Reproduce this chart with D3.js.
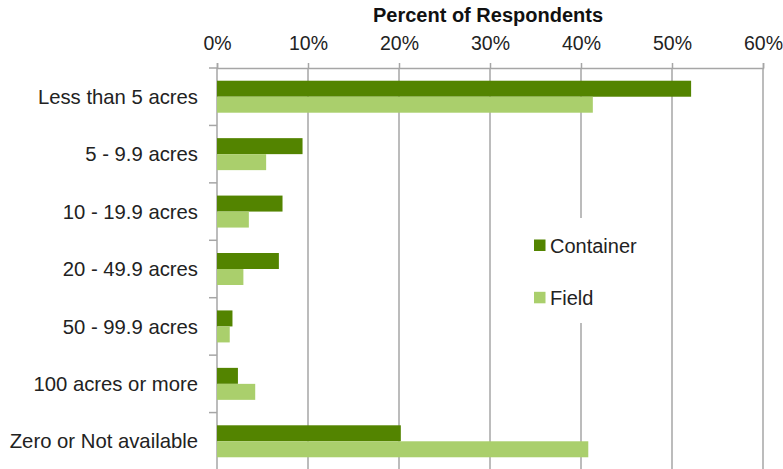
<!DOCTYPE html>
<html><head><meta charset="utf-8">
<script src="https://cdn.jsdelivr.net/npm/d3@7"></script>
<style>body{margin:0;background:#fff;}svg{display:block;font-family:"Liberation Sans",Arial,sans-serif;}</style>
</head><body>
<svg id="c" width="783" height="469"></svg>
<script>
const categories = ["Less than 5 acres","5 - 9.9 acres","10 - 19.9 acres","20 - 49.9 acres","50 - 99.9 acres","100 acres or more","Zero or Not available"];
const seriesNames = ["Container","Field"];
const container = [0.521,0.094,0.072,0.068,0.017,0.023,0.202];
const field = [0.413,0.054,0.035,0.029,0.014,0.042,0.408];
const xTicks = [0,0.1,0.2,0.3,0.4,0.5,0.6];
const colors = ["#538400","#aacf6c"];

const svg = d3.select("#c");
const L = 217, R = 763, T = 68, B = 470;
const x = d3.scaleLinear().domain([0,0.6]).range([L,R]);
const y = d3.scaleBand().domain(categories).range([T,B]).paddingInner(0.443).paddingOuter(0.2215);
const ySub = d3.scaleBand().domain(seriesNames).range([0,y.bandwidth()]);
const grid = "#a6a6a6";

// gridlines
svg.append("g").selectAll("line").data(xTicks.slice(1)).join("line")
  .attr("x1",d=>x(d)).attr("x2",d=>x(d)).attr("y1",T).attr("y2",B)
  .attr("stroke",grid).attr("stroke-width",1.5);

// top axis
const xa = svg.append("g").attr("transform",`translate(0,${T})`)
  .call(d3.axisTop(x).tickValues(xTicks).tickFormat(d3.format(".0%")).tickSize(5).tickPadding(13));
xa.select(".domain").attr("stroke",grid).attr("stroke-width",1.5);
xa.selectAll(".tick line").attr("stroke",grid).attr("stroke-width",1.5);
xa.selectAll("text").attr("font-size",19.5).attr("fill","#222").attr("font-family","Liberation Sans, Arial, sans-serif");

// y axis
const step = y.step();
const bounds = d3.range(categories.length).map(i=>T+i*step);
svg.append("line").attr("x1",L).attr("x2",L).attr("y1",T).attr("y2",B).attr("stroke",grid).attr("stroke-width",1.5);
svg.append("g").selectAll("line").data(bounds).join("line")
  .attr("x1",L-8).attr("x2",L).attr("y1",d=>d).attr("y2",d=>d).attr("stroke",grid).attr("stroke-width",1.5);
svg.append("g").selectAll("text").data(categories).join("text")
  .attr("x",198).attr("y",d=>y(d)+y.bandwidth()/2).attr("dy","0.35em")
  .attr("text-anchor","end").attr("font-size",20.3).attr("fill","#222").text(d=>d);

// bars
const data = [container, field];
seriesNames.forEach((s,si)=>{
  svg.append("g").selectAll("rect").data(categories).join("rect")
    .attr("x",x(0)).attr("y",(d,i)=>y(d)+ySub(s))
    .attr("width",(d,i)=>x(data[si][i])-x(0)).attr("height",ySub.bandwidth())
    .attr("fill",colors[si]);
});

// title
svg.append("text").attr("x",488).attr("y",22).attr("text-anchor","middle")
  .attr("font-size",20).attr("font-weight","bold").attr("fill","#111").text("Percent of Respondents");

// legend
const lg = svg.append("g");
lg.append("rect").attr("x",526).attr("y",218).attr("width",118).attr("height",105).attr("fill","#fff");
seriesNames.forEach((s,i)=>{
  const yy = 239.5 + i*52.3;
  lg.append("rect").attr("x",534).attr("y",yy).attr("width",11.5).attr("height",11.5).attr("fill",colors[i]);
  lg.append("text").attr("x",550).attr("y",yy+6).attr("dy","0.35em").attr("font-size",20).attr("fill","#222").text(s);
});
</script>
</body></html>
